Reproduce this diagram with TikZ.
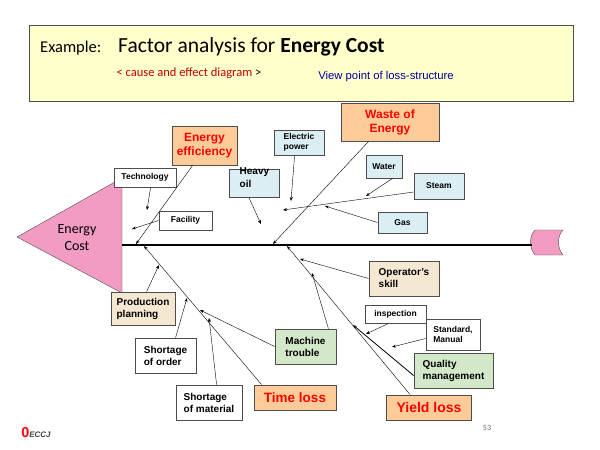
\documentclass[tikz,border=0pt]{standalone}
\usepackage{fontspec}
\setmainfont{Liberation Sans}
\newfontfamily\carl{Carlito}
\usetikzlibrary{arrows.meta}
\definecolor{orng}{HTML}{FFCC99}
\definecolor{lblue}{HTML}{DAEEF3}
\definecolor{wht}{HTML}{F5E8D2}
\definecolor{lgreen}{HTML}{D3E8C8}
\definecolor{pinkc}{HTML}{F29CC4}
\definecolor{ttl}{HTML}{FFFFCC}
\tikzset{
 bx/.style={draw=black!70,thick,inner sep=3pt,align=left,font=\bfseries\fontsize{10}{12}\selectfont,anchor=center},
 sm/.style={font=\bfseries\fontsize{8.5}{10}\selectfont},
 big/.style={bx,fill=orng,text=red,align=center,font=\bfseries\fontsize{12}{14}\selectfont},
 ar/.style={-{Stealth[length=4pt,width=3pt]},thin},
 bone/.style={line width=1pt}
}
\begin{document}
\begin{tikzpicture}[x=1pt,y=-1pt]
\useasboundingbox (0,0) rectangle (600,450);
% title
\node[draw=black!70,fill=ttl,minimum width=544,minimum height=76,anchor=north west] (title) at (29,25) {};
\node[anchor=base west,font=\carl\fontsize{16.5}{18}\selectfont,inner sep=0] (ex) at (40,52) {Example:};
\node[anchor=base west,font=\carl\fontsize{21.5}{24}\selectfont,inner sep=0] (fa) at (118,52) {Factor analysis for \textbf{Energy Cost}};
\node[anchor=center,font=\carl\fontsize{12.5}{14}\selectfont,text={rgb,255:red,192;green,0;blue,0}] (ce) at (189,73) {< cause and effect diagram \textcolor{black}{>}};
\node[anchor=center,font=\fontsize{11.3}{13}\selectfont,text={rgb,255:red,0;green,0;blue,160}] (vp) at (386,77) {View point of loss-structure};
% head and tail
\draw[fill=pinkc,draw=black!70] (122,178) -- (122,293) -- (17,237) -- cycle;
\node[font=\carl\fontsize{14}{17}\selectfont,align=center] (head) at (77,238) {Energy\\Cost};
\draw[fill=pinkc,draw=black!70] (535,230) -- (563,230) .. controls (557,236) and (557,248) .. (563,255) -- (535,255) .. controls (529,248) and (529,236) .. (535,230) -- cycle;
\coordinate (s0) at (122,245); \coordinate (s1) at (532,245);
\draw[line width=1.6pt] (s0) -- (s1);
% boxes
\node[big,minimum width=65,minimum height=39] (ee) at (204.5,145.5) {Energy\\efficiency};
\node[big,minimum width=98,minimum height=38] (we) at (390,122) {Waste of\\Energy};
\node[big,minimum width=82,minimum height=25,font=\bfseries\fontsize{13.5}{15}\selectfont] (tl) at (295,397.5) {Time loss};
\node[big,minimum width=85,minimum height=25,font=\bfseries\fontsize{14}{16}\selectfont] (yl) at (429,407.5) {Yield loss};
\node[bx,sm,fill=white,minimum width=62,minimum height=19] (tech) at (145,177.5) {Technology};
\node[bx,sm,fill=white,minimum width=53,minimum height=19] (fac) at (185.5,220.5) {Facility};
\node[bx,sm,fill=lblue,minimum width=50,minimum height=25] (ep) at (299,142.5) {Electric\\power};
\node[bx,sm,fill=lblue,minimum width=50,minimum height=28,anchor=north west,text height=9pt,font=\bfseries\fontsize{10}{13}\selectfont] (ho) at (229,169) {Heavy\\oil};
\node[bx,sm,fill=lblue,minimum width=36,minimum height=23] (wa) at (384,166.5) {Water};
\node[bx,sm,fill=lblue,minimum width=50,minimum height=26] (st) at (439,186) {Steam};
\node[bx,sm,fill=lblue,minimum width=49,minimum height=21] (gas) at (402.5,222.5) {Gas};
\node[bx,fill=wht,minimum width=70,minimum height=35] (os) at (404,278.5) {Operator's\\skill};
\node[bx,fill=wht,minimum width=64,minimum height=33] (pp) at (143,308.5) {Production\\planning};
\node[bx,fill=white,minimum width=61,minimum height=35] (so) at (165.5,355.5) {Shortage\\of order};
\node[bx,fill=white,minimum width=66,minimum height=35] (sm) at (209,402.5) {Shortage\\of material};
\node[bx,fill=lgreen,minimum width=61,minimum height=35] (mt) at (305.5,346.5) {Machine\\trouble};
\node[bx,sm,fill=white,minimum width=61,minimum height=18] (ins) at (395.5,314) {inspection};
\node[bx,sm,fill=white,minimum width=54,minimum height=31] (sd) at (453,334.5) {Standard,\\Manual};
\node[bx,fill=lgreen,minimum width=79,minimum height=35] (qm) at (453.5,370.5) {Quality\\management};
% bones
\coordinate (b1) at (136,244); \coordinate (b2) at (273,244);
\coordinate (b3) at (144,246); \coordinate (b4) at (287,246);
\draw[bone,ar] ([xshift=21pt]ee.south west) -- (b1);
\draw[bone,ar] ([xshift=28pt]we.south west) -- (b2);
\draw[bone,ar] ([xshift=8pt]tl.north west) -- (b3);
\draw[bone,ar] ([xshift=24pt]yl.north west) -- (b4);
% sub-causes
\coordinate (t1) at (147,210); \coordinate (f1) at (132,229);
\coordinate (e1) at (291,201); \coordinate (h1) at (261,224);
\coordinate (w1) at (366,196); \coordinate (st1) at (283,210); \coordinate (g1) at (325,206);
\coordinate (o1) at (300,259); \coordinate (mt1) at (312,273); \coordinate (mt2) at (200,310);
\coordinate (p1) at (159,265); \coordinate (so1) at (187,298); \coordinate (sm1) at (209,318);
\coordinate (i1) at (366,334); \coordinate (sd1) at (392,347); \coordinate (q1) at (353,325);
\draw[ar] ([xshift=37pt]tech.south west) -- (t1);
\draw[ar] (fac.west) -- (f1);
\draw[ar] ([xshift=21pt]ep.south west) -- (e1);
\draw[ar] ([xshift=20pt]ho.south west) -- (h1);
\draw[ar] ([xshift=27pt]wa.south west) -- (w1);
\draw[ar] ([yshift=-6pt]st.west) -- (st1);
\draw[ar] (gas.west) -- (g1);
\draw[ar] (os.west) -- (o1);
\draw[ar] ([xshift=-8pt]mt.north east) -- (mt1);
\draw[ar] (mt.west) -- (mt2);
\draw[ar] ([xshift=36pt]pp.north west) -- (p1);
\draw[ar] ([xshift=41pt]so.north west) -- (so1);
\draw[ar] ([xshift=41pt]sm.north west) -- (sm1);
\draw[ar] ([xshift=24pt]ins.south west) -- (i1);
\draw[ar] ([yshift=-4pt]sd.west) -- (sd1);
\draw[ar,thick] ([yshift=-5pt]qm.west) -- (q1);
% footer
\node[font=\bfseries\itshape\fontsize{8}{9}\selectfont,text=black!75] (logo) at (36,433) {\textcolor{red}{\Large$\mathbf{0}$}ECCJ};
\node[font=\carl\fontsize{8}{9}\selectfont,text=black!60] (pg) at (487,428) {53};
\end{tikzpicture}
\end{document}
